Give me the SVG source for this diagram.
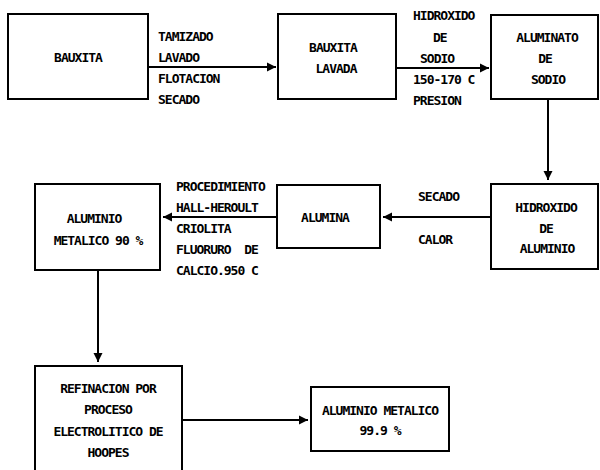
<svg xmlns="http://www.w3.org/2000/svg" width="600" height="470" viewBox="0 0 600 470">
<style>
.box{fill:none;stroke:#000;stroke-width:2}
.t{font-family:"DejaVu Sans Mono","Liberation Mono",monospace;font-weight:bold;font-size:13px;letter-spacing:-1px;fill:#000;white-space:pre}
.c{text-anchor:middle}
.edge{fill:none;stroke:#000;stroke-width:2}
</style>
<defs>
<marker id="ah" markerWidth="10" markerHeight="10" refX="9" refY="5" orient="auto" markerUnits="userSpaceOnUse">
<path d="M0,0.5 L9,5 L0,9.5 Z" fill="#000"/>
</marker>
</defs>
<rect width="600" height="470" fill="#fff"/>
<g id="connectors">
<path class="edge" d="M148 67 H276" marker-end="url(#ah)"/>
<path class="edge" d="M396 68 H489" marker-end="url(#ah)"/>
<path class="edge" d="M548 100 V180" marker-end="url(#ah)"/>
<path class="edge" d="M491 217 H383" marker-end="url(#ah)"/>
<path class="edge" d="M277 217 H163" marker-end="url(#ah)"/>
<path class="edge" d="M98 270 V362" marker-end="url(#ah)"/>
<path class="edge" d="M182 420 H308" marker-end="url(#ah)"/>
</g>
<g id="labels">
<text class="t" x="158" y="41">TAMIZADO</text>
<text class="t" x="158" y="62">LAVADO</text>
<text class="t" x="158" y="83">FLOTACION</text>
<text class="t" x="158" y="104">SECADO</text>
<text class="t" x="413" y="20">HIDROXIDO</text>
<text class="t" x="433" y="42">DE</text>
<text class="t" x="420" y="63">SODIO</text>
<text class="t" x="413" y="84">150-170 C</text>
<text class="t" x="413" y="105">PRESION</text>
<text class="t" x="418" y="201">SECADO</text>
<text class="t" x="418" y="244">CALOR</text>
<text class="t" x="176" y="191">PROCEDIMIENTO</text>
<text class="t" x="176" y="212">HALL-HEROULT</text>
<text class="t" x="176" y="233">CRIOLITA</text>
<text class="t" x="176" y="254">FLUORURO  DE</text>
<text class="t" x="176" y="275">CALCIO.950 C</text>
</g>
<g id="bauxita">
<rect class="box" x="8" y="14" width="140" height="85"/>
<text class="t c" x="78" y="62">BAUXITA</text>
</g>
<g id="bauxita-lavada">
<rect class="box" x="278" y="14" width="118" height="85"/>
<text class="t c" x="333" y="52">BAUXITA</text>
<text class="t c" x="336" y="73">LAVADA</text>
</g>
<g id="aluminato">
<rect class="box" x="491" y="15" width="107" height="84"/>
<text class="t c" x="547" y="42">ALUMINATO</text>
<text class="t c" x="545" y="63">DE</text>
<text class="t c" x="548" y="84">SODIO</text>
</g>
<g id="hidroxido-aluminio">
<rect class="box" x="491" y="184" width="107" height="85"/>
<text class="t c" x="546" y="212">HIDROXIDO</text>
<text class="t c" x="546" y="233">DE</text>
<text class="t c" x="547" y="253">ALUMINIO</text>
</g>
<g id="alumina">
<rect class="box" x="277" y="185" width="103" height="63"/>
<text class="t c" x="325" y="222">ALUMINA</text>
</g>
<g id="aluminio-90">
<rect class="box" x="35" y="184" width="125" height="86"/>
<text class="t c" x="94" y="223">ALUMINIO</text>
<text class="t c" x="98" y="245">METALICO 90 %</text>
</g>
<g id="refinacion">
<rect class="box" x="35" y="366" width="147" height="112"/>
<text class="t c" x="108" y="393">REFINACION POR</text>
<text class="t c" x="108" y="414">PROCESO</text>
<text class="t c" x="108" y="436">ELECTROLITICO DE</text>
<text class="t c" x="108" y="457">HOOPES</text>
</g>
<g id="aluminio-999">
<rect class="box" x="311" y="387" width="138" height="64"/>
<text class="t c" x="380" y="415">ALUMINIO METALICO</text>
<text class="t c" x="380" y="435">99.9 %</text>
</g>
</svg>
